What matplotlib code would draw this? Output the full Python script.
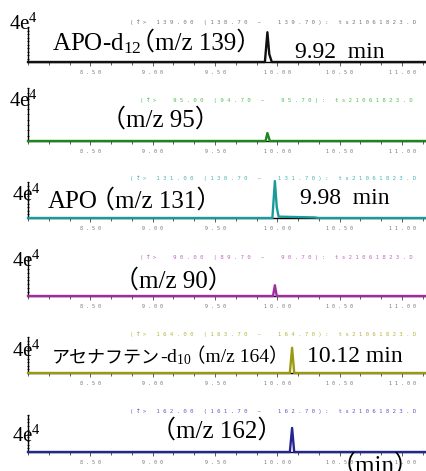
import matplotlib
matplotlib.use('Agg')
import matplotlib.pyplot as plt
import numpy as np

plt.rcParams['mathtext.fontset'] = 'custom'
plt.rcParams['mathtext.rm'] = 'Liberation Serif'
plt.rcParams['mathtext.it'] = 'Liberation Serif:italic'

W, H = 427, 471
SERIF = ['Liberation Serif', 'Noto Sans CJK JP']
MONO = ['DejaVu Sans Mono', 'Noto Sans CJK JP']

# chromatogram data (time in min, response)
t_139 = [8.0, 9.90, 9.92, 9.935, 9.955, 11.2]
r_139 = [0, 0, 34000, 9000, 0, 0]
t_95 = [8.0, 9.905, 9.92, 9.94, 11.2]
r_95 = [0, 0, 6000, 0, 0]
t_131 = [8.0, 9.96, 9.98, 9.995, 10.01, 10.30, 10.33, 11.2]
r_131 = [0, 0, 41000, 12000, 1500, 600, 0, 0]
t_90 = [8.0, 9.965, 9.98, 9.995, 11.2]
r_90 = [0, 0, 11000, 0, 0]
t_164 = [8.0, 10.10, 10.118, 10.135, 11.2]
r_164 = [0, 0, 28000, 0, 0]
t_162 = [8.0, 10.10, 10.118, 10.135, 11.2]
r_162 = [0, 0, 26000, 0, 0]

headers = [
    '(ｵ> 139.00 (138.70 ~  139.70): ts21061823.D',
    '(ｵ>  95.00 (94.70 ~  95.70): ts21061823.D',
    '(ｵ> 131.00 (130.70 ~  131.70): ts21061823.D',
    '(ｵ>  90.00 (89.70 ~  90.70): ts21061823.D',
    '(ｵ> 164.00 (163.70 ~  164.70): ts21061823.D',
    '(ｵ> 162.00 (161.70 ~  162.70): ts21061823.D',
]
xtick_vals = [8.5, 9.0, 9.5, 10.0, 10.5, 11.0]
xtick_text = ['8.50', '9.00', '9.50', '10.00', '10.50', '11.00']
ymax = 40000

series = [(t_139, r_139), (t_95, r_95), (t_131, r_131),
          (t_90, r_90), (t_164, r_164), (t_162, r_162)]
colors = ['#111111', '#1e861e', '#1a9a9a', '#a02ca0', '#9a9a12', '#25258f']
head_colors = ['#777777', '#4fbf4f', '#48b4b4', '#c266c2', '#b5b53a', '#5a5ac4']

# panel layout in pixels (top, bottom of the axes)
tops = [27, 88, 182, 257, 337, 415]
bottoms = [62, 141, 218, 296, 373, 452]
head_pos = [(130, 22), (140, 100), (130, 178), (140, 257), (130, 334), (130, 411)]
ylab_pos = [(9, 30), (9, 107), (12, 201), (12, 267), (12, 357), (12, 442)]

fig = plt.figure(figsize=(W / 100, H / 100), dpi=100)
x0 = 28

for i, (t, r) in enumerate(series):
    top, bot = tops[i], bottoms[i]
    ax = fig.add_axes([x0 / W, 1 - bot / H, (W - x0) / W, (bot - top) / H])
    ax.plot(t, r, color=colors[i], lw=1.7, zorder=3, clip_on=False)
    ax.set_xlim(8.0, 11.2)
    ax.set_ylim(0, ymax)
    ax.patch.set_alpha(0)
    for s in ['top', 'right']:
        ax.spines[s].set_visible(False)
    ax.spines['left'].set_linewidth(1.0)
    ax.spines['bottom'].set_linewidth(1.0)
    ax.set_xticks(xtick_vals)
    ax.set_xticklabels([' '.join(s) for s in xtick_text], fontsize=3.6,
                       family='DejaVu Sans Mono', color='#777777')
    ax.set_xticks(np.arange(8.0, 11.2, 0.5 / 3), minor=True)
    ax.tick_params(axis='x', which='major', length=3, width=0.6, pad=3,
                   color='#444444')
    ax.tick_params(axis='x', which='minor', length=2.5, width=0.6,
                   color='#444444')
    ax.set_yticks(np.arange(0, ymax + 1, ymax / 10))
    ax.set_yticklabels([])
    ax.tick_params(axis='y', length=2, width=0.6, direction='inout')

    hx, hy = head_pos[i]
    fig.text(hx / W, 1 - hy / H, ' '.join(headers[i]), fontsize=4.05,
             family=MONO, color=head_colors[i], va='center')
    lx, ly = ylab_pos[i]
    fig.text(lx / W, 1 - ly / H, '4e$^4$', fontsize=15, family=SERIF,
             va='baseline')

renderer = fig.canvas.get_renderer()


def label(x, y, parts):
    # draw text pieces one after another on a common baseline (pixels from top)
    for s, size, dx in parts:
        x += dx * size * 100 / 72
        tx = fig.text(x / W, 1 - y / H, s, fontsize=size, family=SERIF,
                      va='baseline')
        x += tx.get_window_extent(renderer).width


label(52, 50, [('APO-d$_{12}$', 18, 0), ('（m/z 139）', 18, -0.45)])
label(295, 58, [('9.92  min', 17, 0)])
label(101, 127, [('（m/z 95）', 18, 0)])
label(48, 208, [('APO', 18, 0), ('（m/z 131）', 18, -0.3)])
label(300, 204, [('9.98  min', 17, 0)])
label(114, 288, [('（m/z 90）', 18, 0)])
label(52, 362, [('アセナフテン', 13, 0), ('-d$_{10}$', 14, 0), ('（m/z 164）', 14, -0.3)])
label(307, 362, [('10.12 min', 17, 0)])
label(151, 438, [('（m/z 162）', 18, 0)])
label(331, 473, [('（min）', 18, 0)])

fig.savefig('out.png', dpi=100, facecolor='white')
